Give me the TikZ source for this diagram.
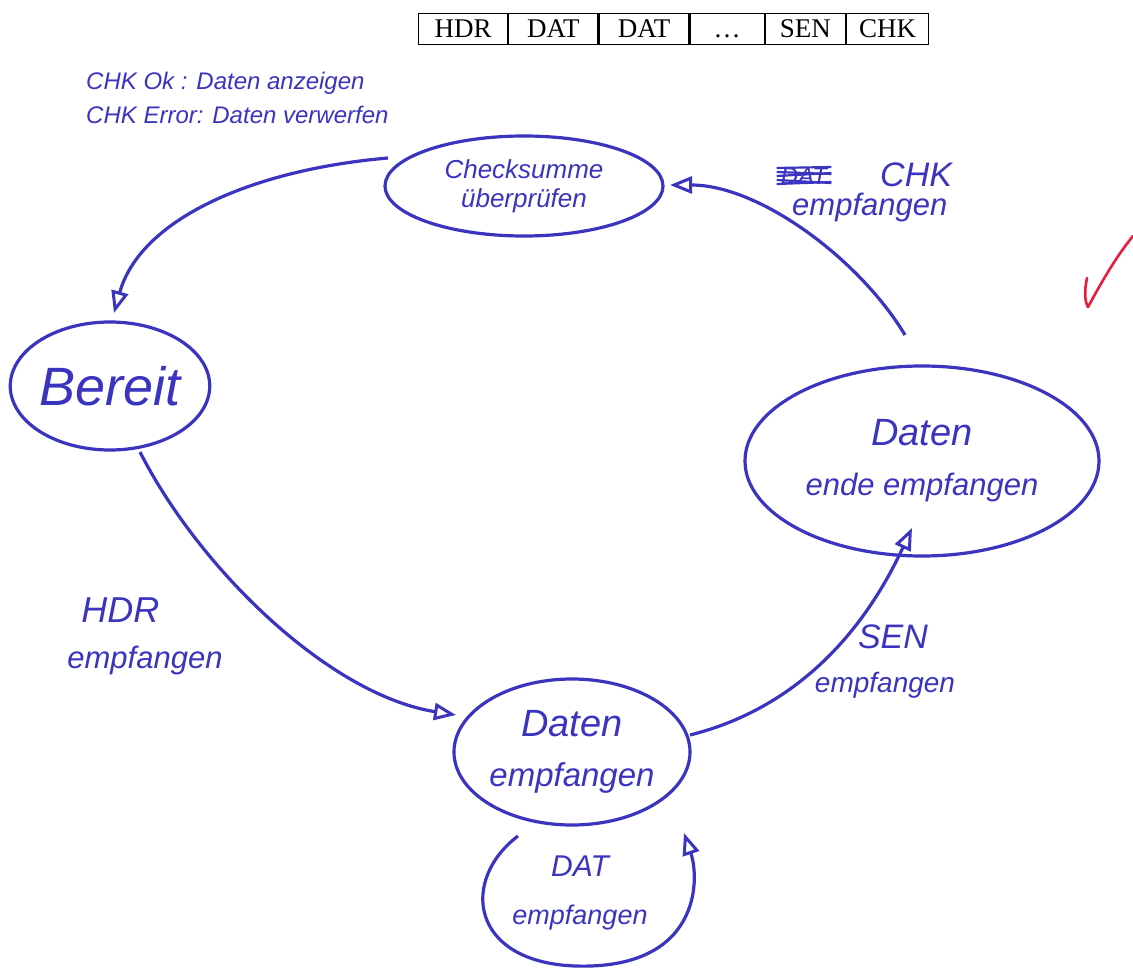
\documentclass[tikz,border=0pt]{standalone}
\usepackage{fontspec}
\setmainfont{Liberation Serif}
\newfontfamily\hand{Liberation Sans}
\usetikzlibrary{shapes.geometric,arrows.meta}
\definecolor{ink}{RGB}{58,52,190}
\definecolor{redink}{RGB}{230,30,60}
\tikzset{
  state/.style={ellipse, draw=ink, line width=3.2pt, inner sep=0pt, text=ink, align=center, font=\hand\itshape},
  edge/.style={draw=ink, line width=3.2pt, -{Triangle[open, length=22pt, width=17pt, line width=3pt]}},
  lbl/.style={text=ink, align=center, font=\hand\itshape, inner sep=0pt},
  cell/.style={draw=black, line width=1.2pt, minimum height=31pt, inner sep=0pt, text height=18pt, text depth=1pt, font=\fontsize{27}{29}\selectfont, anchor=west},
}
\begin{document}
\begin{tikzpicture}[x=1pt,y=-1pt]
\useasboundingbox (0,0) rectangle (1133,971);

% frame table
\node[cell, minimum width=89pt] (c1) at (418,29) {HDR};
\node[cell, minimum width=89pt] (c2) at (c1.east) {DAT};
\node[cell, minimum width=90pt] (c3) at (c2.east) {DAT};
\node[cell, minimum width=74pt] (c4) at (c3.east) {…};
\node[cell, minimum width=80pt] (c5) at (c4.east) {SEN};
\node[cell, minimum width=82pt] (c6) at (c5.east) {CHK};

% states
\node[state, minimum width=278pt, minimum height=100pt, font=\hand\itshape\fontsize{26}{29}\selectfont] (chk) at (524,186) {Checksumme\\überprüfen};
\node[state, minimum width=196pt, minimum height=128pt, font=\hand\itshape\fontsize{54}{56}\selectfont] (ber) at (110,386) {Bereit};
\node[state, minimum width=354pt, minimum height=190pt, font=\hand\itshape\fontsize{31}{50}\selectfont] (end) at (922,461) {\fontsize{38}{40}\selectfont Daten\\ende empfangen};
\node[state, minimum width=236pt, minimum height=146pt, font=\hand\itshape\fontsize{33}{50}\selectfont] (dat) at (572,752) {\fontsize{38}{40}\selectfont Daten\\empfangen};

% labels
\node[lbl, font=\hand\itshape\fontsize{24}{34}\selectfont, align=left, anchor=north west] (note) at (86,72) {CHK Ok : Daten anzeigen\\CHK Error: Daten verwerfen};
\node[lbl, font=\hand\itshape\fontsize{31}{46}\selectfont, align=left] (lhdr) at (145,636) {\hspace{14pt}\fontsize{36}{38}\selectfont HDR\\empfangen};
\node[lbl, font=\hand\itshape\fontsize{28}{44}\selectfont] (lsen) at (885,662) {\hspace{16pt}\fontsize{34}{36}\selectfont SEN\\empfangen};
\node[lbl, font=\hand\itshape\fontsize{31}{36}\selectfont, anchor=north west] (lchk) at (880,163) {\fontsize{34}{36}\selectfont CHK};
\node[lbl, font=\hand\itshape\fontsize{31}{36}\selectfont, anchor=north west] (lchk2) at (792,193) {empfangen};
\node[lbl, font=\hand\itshape\fontsize{27}{48}\selectfont] (ldat) at (580,893) {\fontsize{30}{32}\selectfont DAT\\empfangen};

% crossed-out word
\node[lbl, font=\hand\itshape\fontsize{24}{26}\selectfont] (cross) at (804,176) {DAT};
\foreach \yy/\dd in {-8/2,-4/-3,0/3,4/-2,8/1}
  \draw[ink, line width=2.2pt] ([xshift=-4pt,yshift=\yy pt]cross.west) -- ([xshift=4pt,yshift=\yy pt+\dd pt]cross.east);

% transitions
\coordinate (a1) at (388,158);
\coordinate (t1) at (114,313);
\draw[edge] (a1) .. controls (250,170) and (140,220) .. (t1);

\coordinate (a2) at (140,452);
\coordinate (t2) at (456,715);
\draw[edge] (a2) .. controls (200,570) and (330,695) .. (t2);

\coordinate (a3) at (690,735);
\coordinate (t3) at (912,528);
\draw[edge] (a3) .. controls (790,710) and (860,640) .. (t3);

\coordinate (a4) at (905,335);
\coordinate (t4) at (670,185);
\draw[edge] (a4) .. controls (860,260) and (760,185) .. (t4);

\coordinate (a5) at (518,836);
\coordinate (t5) at (684,833);
\draw[edge] (a5) .. controls (460,880) and (470,962) .. (575,966)
               .. controls (700,970) and (700,880) .. (t5);

% red check mark
\draw[redink, line width=2.6pt, line cap=round, line join=round]
  (1087,278) .. controls (1084,292) and (1085,302) .. (1088,307)
  .. controls (1100,285) and (1115,258) .. (1133,236);
\end{tikzpicture}
\end{document}
